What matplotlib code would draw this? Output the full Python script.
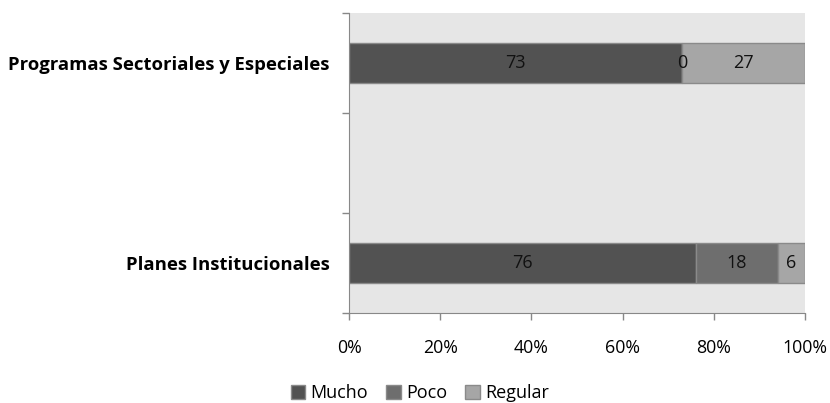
import matplotlib
matplotlib.use("Agg")
import matplotlib.pyplot as plt
import numpy as np

plt.rcParams['font.family'] = ['Open Sans', 'DejaVu Sans']

categories = ["Planes Institucionales", "", "Programas Sectoriales y Especiales"]
series_names = ["Mucho", "Poco", "Regular"]
mucho = [76, None, 73]
poco = [18, None, 0]
regular = [6, None, 27]
colors = ["#525252", "#6e6e6e", "#a6a6a6"]
xticks = [0, 20, 40, 60, 80, 100]
xtick_labels = ["0%", "20%", "40%", "60%", "80%", "100%"]

fig = plt.figure(figsize=(8.3, 4.03), dpi=100)
ax = fig.add_axes([349/830, 90/403, 456/830, 300/403])
ax.set_facecolor("#e6e6e6")

series = [mucho, poco, regular]
idx = [i for i, c in enumerate(categories) if c]
left = np.zeros(len(idx))
handles = []
for name, vals, col in zip(series_names, series, colors):
    v = np.array([vals[i] for i in idx], dtype=float)
    h = ax.barh(idx, v, left=left, height=0.4, color=col, edgecolor="#8a8a8a",
                linewidth=1, label=name)
    handles.append(h)
    for y, l, w in zip(idx, left, v):
        ax.text(l + w / 2, y, f"{int(w)}", ha="center", va="center",
                fontsize=13, color="#111111")
    left = left + v

ax.set_xlim(0, 100)
ax.set_ylim(-0.5, len(categories) - 0.5)
ax.set_xticks(xticks)
ax.set_xticklabels(xtick_labels, fontsize=12.8)
ax.set_yticks(range(len(categories)))
ax.set_yticklabels(categories, fontsize=13.3, fontweight="bold")
ax.tick_params(axis="y", which="major", length=0, pad=14)
ax.set_yticks(np.arange(-0.5, len(categories)), minor=True)
ax.tick_params(axis="y", which="minor", length=5, color="#888888", width=1)
ax.tick_params(axis="x", length=5, color="#888888", width=1, pad=14)

for s in ["top", "right"]:
    ax.spines[s].set_visible(False)
for s in ["left", "bottom"]:
    ax.spines[s].set_color("#888888")

leg = fig.legend(handles=handles, labels=series_names, loc="center",
                 bbox_to_anchor=(420/830, 1 - 393/403), ncol=3, frameon=False,
                 fontsize=13, handlelength=0.8, handleheight=0.8,
                 handletextpad=0.3, columnspacing=1.0)

fig.savefig("out.png", dpi=100)
